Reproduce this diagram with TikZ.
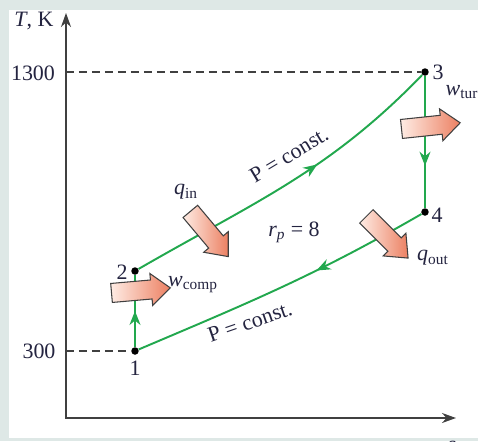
\documentclass[tikz,border=0pt]{standalone}
\usepackage{fontspec}
\setmainfont{Liberation Serif}
\usetikzlibrary{arrows.meta,shapes.arrows,decorations.markings}

\definecolor{cyclegreen}{RGB}{34,168,78}
\definecolor{axisgray}{RGB}{64,64,64}
\definecolor{framegray}{RGB}{222,232,230}
\definecolor{heatlight}{RGB}{254,236,228}
\definecolor{heatdark}{RGB}{236,128,98}
\definecolor{labelink}{RGB}{36,36,64}

\tikzset{
  statept/.style={circle, fill=black, inner sep=0pt, minimum size=0.15cm},
  process/.style={draw=cyclegreen, line width=1.1pt},
  midarrow/.style={postaction={decorate, decoration={markings,
      mark=at position #1 with {\arrow{Stealth[length=0.28cm,width=0.22cm]}}}}},
  refline/.style={draw=axisgray, line width=0.8pt, dash pattern=on 0.16cm off 0.1cm},
  energy/.style={single arrow, draw=axisgray, line width=0.6pt,
      left color=heatlight, right color=heatdark,
      minimum height=1.18cm, inner xsep=0pt, inner ysep=0.18cm,
      single arrow head extend=0.13cm, single arrow tip angle=80, anchor=tail}
}

\begin{document}
\begin{tikzpicture}[x=0.02cm, y=-0.02cm,
    every node/.style={font=\fontsize{12.5}{14}\selectfont, text=labelink}]
  \useasboundingbox (0,0) rectangle (478,441);
  \clip (0,0) rectangle (478,441);
  \fill[framegray] (0,0) rectangle (478,441);
  \fill[white] (9,10) rectangle (478,438);

  % axes
  \coordinate (O) at (66,418);
  \coordinate (Ttip) at (66,13);
  \coordinate (stip) at (456,418);
  \draw[axisgray, line width=1.1pt, {Stealth[length=0.28cm,width=0.2cm]}-{Stealth[length=0.28cm,width=0.2cm]}]
    (Ttip) -- (O) -- (stip);

  % states
  \node[statept] (p1) at (135,351) {};
  \node[statept] (p2) at (135,271) {};
  \node[statept] (p3) at (425,72) {};
  \node[statept] (p4) at (425,212) {};

  \draw[refline] (O |- p3) -- (p3);
  \draw[refline] (O |- p1) -- (p1);

  % processes
  \draw[process, midarrow=0.5] (p1) -- (p2);
  \draw[process, midarrow=0.6] (p2) to[out=30, in=226] (p3);
  \draw[process, midarrow=0.68] (p3) -- (p4);
  \draw[process, midarrow=0.38] (p4) to[out=210, in=23] (p1);

  % heat and work
  \node[energy, rotate=-50] (qinarr) at (190,211) {};
  \node[energy, rotate=5] (wcarr) at (111,293) {};
  \node[energy, rotate=6] (wtarr) at (401,129) {};
  \node[energy, rotate=-45] (qoutarr) at (366,216) {};

  % labels
  \node (Tlab)  at (34,21)   {\textit{T}, K};
  \node (slab)  at (452,446) {\textit{s}};
  \node (hi)    at (33,73)   {1300};
  \node (lo)    at (39,351)  {300};
  \node (n1)    at (135,368) {1};
  \node (n2)    at (122,272) {2};
  \node (n3)    at (438,72)  {3};
  \node (n4)    at (437,215) {4};
  \node (qin)   at (186,192) {\textit{q}\textsubscript{in}};
  \node (wcomp) at (193,285) {\textit{w}\textsubscript{comp}};
  \node (wtur)  at (462,92)  {\textit{w}\textsubscript{tur}};
  \node (qout)  at (433,258) {\textit{q}\textsubscript{out}};
  \node (rp)    at (294,232) {\textit{r\textsubscript{p}} = 8};
  \node[rotate=31] (pup) at (289,155) {P = const.};
  \node[rotate=19] (plo) at (250,322) {P = const.};
\end{tikzpicture}
\end{document}
